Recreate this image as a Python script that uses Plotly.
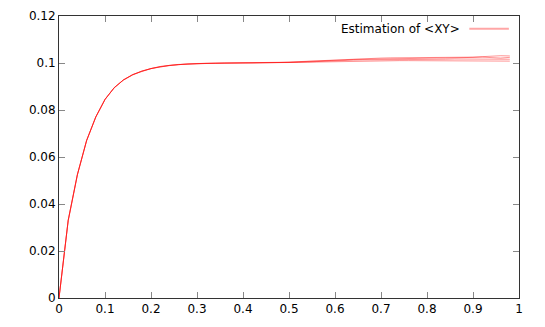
import plotly.graph_objects as go

x_vals = [0.00, 0.02, 0.04, 0.06, 0.08, 0.10, 0.12, 0.14, 0.16, 0.18,
          0.20, 0.22, 0.24, 0.26, 0.28, 0.30, 0.32, 0.34, 0.36, 0.38,
          0.40, 0.42, 0.44, 0.46, 0.48, 0.50, 0.52, 0.54, 0.56, 0.58,
          0.60, 0.62, 0.64, 0.66, 0.68, 0.70, 0.72, 0.74, 0.76, 0.78,
          0.80, 0.82, 0.84, 0.86, 0.88, 0.90, 0.92, 0.94, 0.96, 0.98]

run_a = [0.0, 0.0330, 0.0525, 0.0670, 0.0770, 0.0845, 0.0895, 0.0928, 0.0950, 0.0965,
         0.0976, 0.0984, 0.0990, 0.0994, 0.0996, 0.0998, 0.0999, 0.0999, 0.1000, 0.1000,
         0.1000, 0.1000, 0.1001, 0.1002, 0.1003, 0.1004, 0.1006, 0.1008, 0.1010, 0.1012,
         0.1014, 0.1016, 0.1018, 0.1019, 0.1020, 0.1021, 0.1022, 0.1022, 0.1023, 0.1023,
         0.1023, 0.1024, 0.1024, 0.1024, 0.1025, 0.1025, 0.1027, 0.1030, 0.1031, 0.1030]
run_b = [0.0, 0.0331, 0.0526, 0.0670, 0.0771, 0.0845, 0.0894, 0.0928, 0.0950, 0.0966,
         0.0976, 0.0985, 0.0990, 0.0994, 0.0996, 0.0998, 0.0999, 0.1000, 0.1000, 0.1000,
         0.1000, 0.1000, 0.1000, 0.1001, 0.1002, 0.1003, 0.1005, 0.1006, 0.1008, 0.1010,
         0.1012, 0.1013, 0.1015, 0.1016, 0.1017, 0.1018, 0.1019, 0.1019, 0.1020, 0.1020,
         0.1020, 0.1021, 0.1021, 0.1021, 0.1022, 0.1024, 0.1025, 0.1022, 0.1021, 0.1024]
run_c = [0.0, 0.0329, 0.0524, 0.0669, 0.0770, 0.0846, 0.0895, 0.0927, 0.0949, 0.0965,
         0.0977, 0.0984, 0.0989, 0.0993, 0.0996, 0.0997, 0.0999, 0.0999, 0.0999, 0.1000,
         0.1000, 0.1000, 0.1000, 0.1001, 0.1001, 0.1002, 0.1003, 0.1005, 0.1006, 0.1008,
         0.1009, 0.1010, 0.1012, 0.1013, 0.1013, 0.1014, 0.1015, 0.1015, 0.1015, 0.1016,
         0.1016, 0.1016, 0.1016, 0.1017, 0.1017, 0.1017, 0.1016, 0.1017, 0.1017, 0.1016]
run_d = [0.0, 0.0330, 0.0525, 0.0671, 0.0771, 0.0844, 0.0895, 0.0928, 0.0951, 0.0965,
         0.0976, 0.0985, 0.0990, 0.0993, 0.0996, 0.0998, 0.0998, 0.0999, 0.1000, 0.1000,
         0.1000, 0.1000, 0.1000, 0.1000, 0.1001, 0.1001, 0.1002, 0.1003, 0.1004, 0.1005,
         0.1006, 0.1007, 0.1008, 0.1008, 0.1009, 0.1009, 0.1010, 0.1010, 0.1010, 0.1010,
         0.1010, 0.1010, 0.1010, 0.1010, 0.1010, 0.1010, 0.1009, 0.1009, 0.1009, 0.1008]

series = [run_a, run_b, run_c, run_d]
legend_label = "Estimation of &lt;XY&gt;"

x_ticks = [0, 0.1, 0.2, 0.3, 0.4, 0.5, 0.6, 0.7, 0.8, 0.9, 1.0]
x_tick_text = ["0", "0.1", "0.2", "0.3", "0.4", "0.5", "0.6", "0.7", "0.8", "0.9", "1"]
y_ticks = [0, 0.02, 0.04, 0.06, 0.08, 0.10, 0.12]
y_tick_text = ["0", "0.02", "0.04", "0.06", "0.08", "0.1", "0.12"]

line_color = "rgba(255,0,0,0.42)"

fig = go.Figure()
for s in series:
    fig.add_trace(go.Scatter(x=x_vals, y=s, mode="lines",
                             line=dict(color=line_color, width=1),
                             showlegend=False, hoverinfo="skip"))

axis_common = dict(showgrid=False, zeroline=False, showline=True, linecolor="#333333",
                   linewidth=1, mirror="ticks", ticks="inside", ticklen=6,
                   tickcolor="#888888", tickwidth=1, automargin=False,
                   tickfont=dict(family="DejaVu Sans", size=12, color="#000000"))

fig.update_layout(
    width=545, height=327,
    margin=dict(l=51, r=34, t=8, b=37, autoexpand=False),
    paper_bgcolor="white", plot_bgcolor="white",
    font=dict(family="DejaVu Sans", size=12, color="#000000"),
    xaxis=dict(range=[0, 1], tickvals=x_ticks, ticktext=x_tick_text, **axis_common),
    yaxis=dict(range=[0, 0.12], tickvals=y_ticks, ticktext=y_tick_text, **axis_common),
    showlegend=False,
)

# key (gnuplot-style: text then sample line)
fig.add_annotation(xref="paper", yref="paper", x=0.876, y=0.955, text=legend_label,
                   showarrow=False, xanchor="right", yanchor="middle",
                   font=dict(family="DejaVu Sans", size=12, color="#000000"))
fig.add_shape(type="line", xref="paper", yref="paper", x0=0.892, x1=0.978, y0=0.955, y1=0.955,
              line=dict(color="rgba(255,0,0,0.35)", width=2))

fig.write_html("out.html")
